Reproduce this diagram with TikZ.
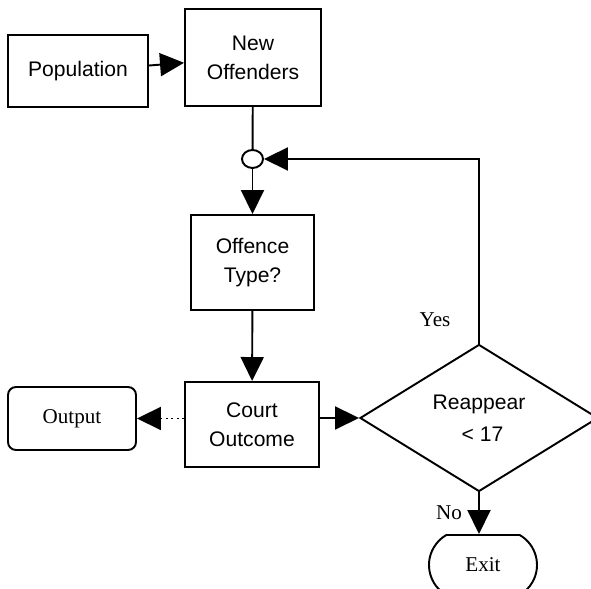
\documentclass[tikz,border=0pt]{standalone}
\usepackage{fontspec}
\setmainfont{Liberation Serif}
\newfontfamily\boxfont{Liberation Sans}
\usetikzlibrary{arrows.meta,shapes.geometric,shapes.misc}

\tikzset{
  flowbox/.style={draw, rectangle, line width=1.1pt, align=center, inner sep=0pt,
    font=\boxfont\fontsize{12}{16.5}\selectfont},
  endbox/.style={draw, line width=1.1pt, inner sep=0pt, font=\fontsize{12}{14}\selectfont},
  arr/.style={line width=1.1pt, -{Triangle[length=0.48cm,width=0.46cm]}},
  lbl/.style={font=\fontsize{12}{14}\selectfont}
}

\begin{document}
\begin{tikzpicture}
    \useasboundingbox (0,0) rectangle (11.82,11.78);

    % 上方两个框
    \node[flowbox, minimum width=2.8cm, minimum height=1.44cm] (pop) at (1.56,10.36) {Population};
    \node[flowbox, minimum width=2.72cm, minimum height=1.94cm] (newoff) at (5.06,10.63) {New\\Offenders};
    \draw[arr] (pop) -- (newoff);

    % 汇合点
    \node[draw, ellipse, line width=1.1pt, minimum width=0.42cm, minimum height=0.36cm, inner sep=0pt] (junc) at (5.05,8.6) {};
    \draw[line width=1.1pt] (newoff) -- (junc);

    % 中间的框
    \node[flowbox, minimum width=2.46cm, minimum height=1.9cm] (offtype) at (5.05,6.53) {Offence\\Type?};
    \node[flowbox, minimum width=2.68cm, minimum height=1.7cm] (court) at (5.04,3.29) {Court\\Outcome};
    \draw[arr] (junc) -- (offtype);
    \draw[arr] (offtype) -- (court);

    % 输出
    \node[endbox, rectangle, rounded corners=0.16cm, minimum width=2.56cm, minimum height=1.26cm] (out) at (1.44,3.41) {Output};
    \draw[arr, dotted] (court.west |- out.east) -- (out.east);

    % 判断
    \node[draw, diamond, line width=1.1pt, inner sep=0pt, minimum width=4.76cm, minimum height=2.94cm,
      align=center, font=\boxfont\fontsize{12}{18}\selectfont] (reap) at (9.58,3.42) {Reappear\\\,\,{<} 17};
    \draw[arr] (court.east |- reap.west) -- (reap.west);

    % 回到汇合点
    \draw[arr] (reap.north) |- (junc.east);
    \node[lbl] (yes) at (8.7,5.38) {Yes};

    % 出口
    \node[endbox, rounded rectangle, rounded rectangle arc length=120, minimum width=2.16cm, minimum height=1.2cm] (exit) at (9.66,0.48) {Exit};
    \draw[arr] (reap.south) -- (reap.south |- exit.north);
    \node[lbl] (no) at (8.98,1.52) {No};
  \end{tikzpicture}
\end{document}
